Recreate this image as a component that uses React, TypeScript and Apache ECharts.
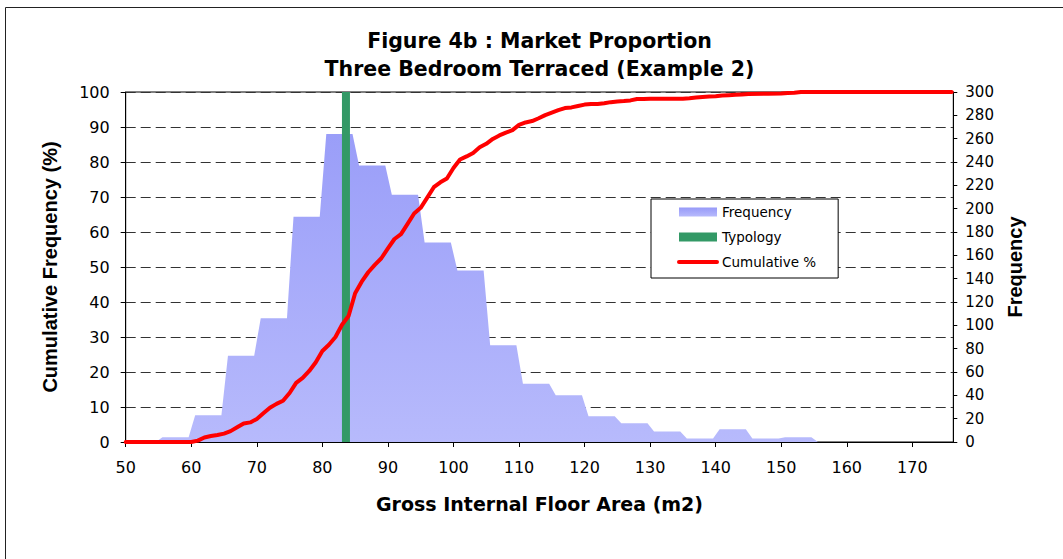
import React, { useEffect, useRef } from "react";
import * as echarts from "echarts";

const titleLines = ["Figure 4b : Market Proportion", "Three Bedroom Terraced (Example 2)"];
const xAxisName = "Gross Internal Floor Area (m2)";
const leftAxisName = "Cumulative Frequency (%)";
const rightAxisName = "Frequency";
const legendNames = ["Frequency", "Typology", "Cumulative %"];

// Histogram bins (lower bound of each 5 m2 band) and their frequencies
const binStarts = [50, 55, 60, 65, 70, 75, 80, 85, 90, 95, 100, 105, 110, 115, 120, 125, 130, 135, 140, 145, 150, 155, 160, 165, 170, 175];
const binFrequency = [0, 4, 23, 74, 106, 193, 264, 237, 212, 171, 147, 83, 50, 40, 22, 16, 9, 3, 11, 3, 4, 0, 0, 0, 0, 0];

// Typology floor area (m2)
const typologyArea = 83.6;

// Cumulative % curve
const cumArea = [
  50, 60, 61, 62, 63, 64, 65, 66, 67, 68, 69, 70, 71, 72, 73, 74, 75, 76, 77, 78, 79,
  80, 81, 82, 83, 84, 85, 86, 87, 88, 89, 90, 91, 92, 93, 94, 95, 96, 97, 98, 99,
  100, 101, 102, 103, 104, 105, 106, 107, 108, 109, 110, 111, 112, 113, 114, 115, 116, 117, 118, 119,
  120, 121, 122, 123, 124, 125, 126, 127, 128, 129, 130, 135, 136, 137, 138, 139,
  140, 141, 142, 143, 144, 145, 148, 150, 151, 152, 153, 176,
];
const cumPct = [
  0, 0, 0.4, 1.3, 1.7, 2.0, 2.4, 3.1, 4.2, 5.3, 5.6, 6.6, 8.2, 9.8, 10.9, 11.8, 14.0, 16.9, 18.3, 20.3, 22.8,
  26.0, 27.8, 30.0, 33.5, 36.0, 42.5, 45.8, 48.5, 50.6, 52.5, 55.3, 58.0, 59.4, 62.3, 65.3, 66.9, 69.8, 72.8, 74.2, 75.3,
  78.3, 80.7, 81.6, 82.6, 84.2, 85.2, 86.6, 87.6, 88.4, 89.1, 90.6, 91.3, 91.7, 92.5, 93.4, 94.1, 94.8, 95.4, 95.6, 96.0,
  96.4, 96.6, 96.6, 96.8, 97.1, 97.3, 97.4, 97.6, 98.0, 98.0, 98.1, 98.1, 98.2, 98.4, 98.6, 98.7,
  98.8, 99.0, 99.1, 99.2, 99.3, 99.4, 99.5, 99.6, 99.7, 99.8, 100, 100,
];

const GRID = { left: 125.7, right: 109.7, top: 92, bottom: 117 };

export default function App() {
  const ref = useRef<HTMLDivElement>(null);

  useEffect(() => {
    if (!ref.current) return;
    const chart = echarts.init(ref.current, null, { renderer: "svg" });

    const areaData: number[][] = [];
    binStarts.forEach((s, i) => {
      areaData.push([s + 0.6, binFrequency[i]]);
      areaData.push([s + 4.6, binFrequency[i]]);
    });
    const cumData = cumArea.map((x, i) => [x, cumPct[i]]);

    const freqGradient = new echarts.graphic.LinearGradient(0, 0, 0, 1, [
      { offset: 0, color: "#979af8" },
      { offset: 1, color: "#b7bafc" },
    ]);
    const freqGradientGlobal = {
      type: "linear",
      x: 0,
      y: GRID.top,
      x2: 0,
      y2: 559 - GRID.bottom,
      global: true,
      colorStops: [
        { offset: 0, color: "#969af8" },
        { offset: 1, color: "#b7bafc" },
      ],
    };

    const hFont = "DejaVu Sans";
    const vFont = "Liberation Sans, Arial, sans-serif";

    chart.setOption({
      animation: false,
      backgroundColor: "#ffffff",
      graphic: [
        {
          type: "rect",
          shape: { x: 5.5, y: 7.5, width: 1200, height: 700 },
          style: { fill: "none", stroke: "#222", lineWidth: 1 },
          silent: true,
          z: -10,
        },
        {
          type: "text",
          x: 539.5,
          y: 40.5,
          style: {
            text: titleLines[0],
            fontFamily: hFont,
            fontWeight: "bold",
            fontSize: 20.5,
            fill: "#000",
            align: "center",
            verticalAlign: "middle",
          },
        },
        {
          type: "text",
          x: 539.5,
          y: 68.5,
          style: {
            text: titleLines[1],
            fontFamily: hFont,
            fontWeight: "bold",
            fontSize: 20.5,
            fill: "#000",
            align: "center",
            verticalAlign: "middle",
          },
        },
      ],
      legend: {
        orient: "vertical",
        left: 651,
        top: 199,
        itemWidth: 38,
        itemHeight: 9,
        itemGap: 11,
        padding: [6, 22, 9, 26],
        backgroundColor: "#ffffff",
        borderColor: "#000",
        borderWidth: 1,
        selectedMode: false,
        textStyle: { fontFamily: hFont, fontSize: 13.5, color: "#000" },
        data: [
          { name: legendNames[0], icon: "rect", itemStyle: { color: freqGradient } },
          { name: legendNames[1], icon: "rect", itemStyle: { color: "#339966" } },
          { name: legendNames[2], itemStyle: { opacity: 0 }, lineStyle: { width: 4, color: "#ff0000" } },
        ],
      },
      grid: {
        ...GRID,
        show: true,
        borderColor: "#000",
        borderWidth: 1,
        backgroundColor: "transparent",
        containLabel: false,
        outerBoundsMode: "none",
      },
      xAxis: {
        type: "value",
        min: 50,
        max: 176.25,
        interval: 10,
        axisLine: { show: true, onZero: false, lineStyle: { color: "#000", width: 1 } },
        axisTick: { show: true, length: 5, lineStyle: { color: "#000" } },
        axisLabel: {
          color: "#000",
          fontFamily: hFont,
          fontSize: 16,
          margin: 17,
          showMaxLabel: false,
        },
        splitLine: { show: false },
        name: xAxisName,
        nameLocation: "middle",
        nameGap: 52,
        nameTextStyle: { fontFamily: hFont, fontWeight: "bold", fontSize: 19, color: "#000" },
      },
      yAxis: [
        {
          type: "value",
          min: 0,
          max: 100,
          interval: 10,
          position: "left",
          axisLine: { show: true, lineStyle: { color: "#000", width: 1 } },
          axisTick: { show: true, length: 5, lineStyle: { color: "#000" } },
          axisLabel: { color: "#000", fontFamily: hFont, fontSize: 16, margin: 16 },
          splitLine: { show: true, lineStyle: { color: "#333", width: 1, type: [10, 5] } },
          name: leftAxisName,
          nameLocation: "middle",
          nameRotate: 90,
          nameGap: 66,
          nameTextStyle: { fontFamily: vFont, fontWeight: "bold", fontSize: 20, color: "#000" },
        },
        {
          type: "value",
          min: 0,
          max: 300,
          interval: 20,
          position: "right",
          axisLine: { show: true, lineStyle: { color: "#000", width: 1 } },
          axisTick: { show: true, length: 4, lineStyle: { color: "#000" } },
          axisLabel: { color: "#000", fontFamily: hFont, fontSize: 15, margin: 12 },
          splitLine: { show: false },
          name: rightAxisName,
          nameLocation: "middle",
          nameRotate: 90,
          nameGap: 50,
          nameTextStyle: { fontFamily: vFont, fontWeight: "bold", fontSize: 20, color: "#000" },
        },
      ],
      series: [
        {
          name: legendNames[0],
          type: "line",
          yAxisIndex: 1,
          data: areaData,
          symbol: "none",
          lineStyle: { width: 0, color: "#a5a8fa" },
          itemStyle: { color: "#a5a8fa" },
          areaStyle: { color: freqGradientGlobal, opacity: 1 },
          z: 1,
          silent: true,
        },
        {
          name: legendNames[1],
          type: "line",
          yAxisIndex: 0,
          data: [
            [typologyArea, 0],
            [typologyArea, 100],
          ],
          symbol: "none",
          lineStyle: { width: 8, color: "#339966", cap: "butt" },
          itemStyle: { color: "#339966" },
          z: 2,
          silent: true,
        },
        {
          name: legendNames[2],
          type: "line",
          yAxisIndex: 0,
          data: cumData,
          symbol: "none",
          lineStyle: { width: 4, color: "#ff0000", join: "round", cap: "round" },
          itemStyle: { color: "#ff0000" },
          z: 3,
          silent: true,
        },
      ],
    });

    return () => chart.dispose();
  }, []);

  return (
    <div
      ref={ref}
      style={{ position: "absolute", left: 0, top: 0, width: 1063, height: 559, background: "#fff" }}
    />
  );
}
